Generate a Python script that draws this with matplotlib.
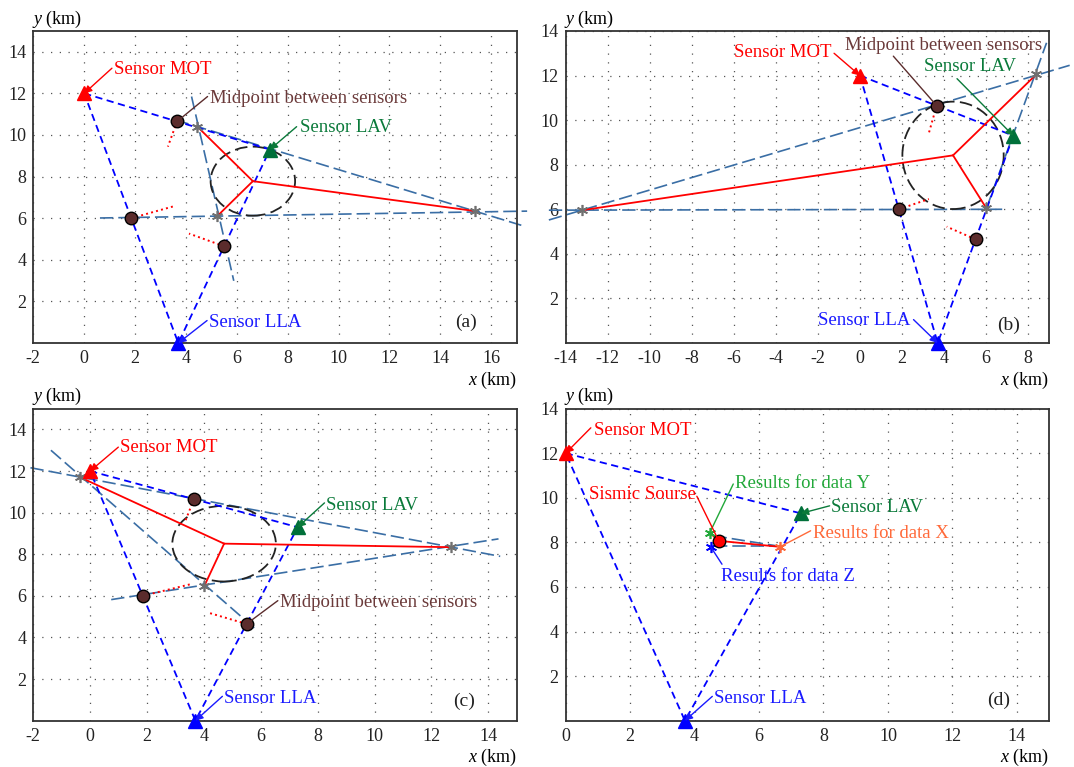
import numpy as np
import matplotlib
matplotlib.use("Agg")
import matplotlib.pyplot as plt
from matplotlib.patches import Circle

plt.rcParams['font.family'] = ['Liberation Serif', 'DejaVu Serif']
plt.rcParams['mathtext.fontset'] = 'custom'
plt.rcParams['mathtext.rm'] = 'Liberation Serif'
plt.rcParams['mathtext.it'] = 'Liberation Serif:italic'
plt.rcParams['axes.unicode_minus'] = False

# === Sensors (MOT, LAV, LLA) and midpoints, km ===
sensor_names = ["MOT", "LAV", "LLA"]
sensor_x = [0.0, 7.3, 3.7]
sensor_y = [12.0, 9.3, 0.0]
sensor_colors = ["#ff0000", "#00703a", "#0000ff"]
mid_x = [3.65, 1.85, 5.5]
mid_y = [10.65, 6.0, 4.65]

# === Panel (a) ===
a_star_x = [4.45, 5.23, 15.38]
a_star_y = [10.40, 6.10, 6.34]
a_center = [6.63, 7.78]
a_radius = 1.66
a_line_x = [[3.60, 17.18], [0.62, 17.41], [4.22, 5.88]]
a_line_y = [[10.72, 5.66], [6.01, 6.34], [11.85, 2.99]]
a_dir_x = [3.29, 3.54, 4.12]
a_dir_y = [9.44, 6.58, 5.26]

# === Panel (b) ===
b_star_x = [-13.21, 6.02, 8.39]
b_star_y = [5.96, 6.04, 12.05]
b_center = [4.43, 8.42]
b_radius = 2.41
b_line_x = [[-14.8, 9.98], [-14.8, 7.0], [6.02, 8.88]]
b_line_y = [[5.52, 12.46], [5.96, 6.0], [6.04, 13.47]]
b_dir_x = [3.28, 3.28, 4.13]
b_dir_y = [9.42, 6.46, 5.22]

# === Panel (c) ===
c_star_x = [-0.35, 4.02, 12.70]
c_star_y = [11.70, 6.49, 8.34]
c_center = [4.71, 8.51]
c_radius = 1.82
c_line_x = [[-2.1, 14.42], [0.74, 14.36], [-1.38, 5.9]]
c_line_y = [[12.16, 7.9], [5.82, 8.74], [13.0, 4.3]]
c_dir_x = [3.32, 3.56, 4.11]
c_dir_y = [9.51, 6.57, 5.21]

# === Panel (d) ===
d_result_names = ["Y", "Z", "X"]
d_result_x = [4.47, 4.50, 6.65]
d_result_y = [8.43, 7.80, 7.80]
d_result_colors = ["#22a83a", "#0000ff", "#ff6a3a"]
d_source = [4.75, 8.07]
d_line_x = [[4.59, 6.65], [4.60, 6.65]]
d_line_y = [[8.30, 7.82], [7.82, 7.82]]

BLUE_LINE = "#3a6ea5"
BROWN = "#5b2c2c"


def setup(ax, xlim, ylim, xticks, tag, tag_xy):
    ax.set_xlim(xlim)
    ax.set_ylim(ylim)
    ax.set_xticks(xticks)
    ax.set_yticks(np.arange(2, 15, 2))
    ax.grid(True, color="#555555", linestyle=(0, (1, 6)), linewidth=0.9)
    ax.tick_params(length=0, labelsize=13, pad=5, colors="#222222")
    for s in ax.spines.values():
        s.set_linewidth(1.3)
        s.set_color("#333333")
    ax.annotate("$y$ (km)", xy=(0, 1), xycoords="axes fraction", xytext=(-1, 1),
                textcoords="offset points", ha="left", va="bottom", fontsize=13)
    ax.annotate("$x$ (km)", xy=(1, 0), xycoords="axes fraction", xytext=(0, -19),
                textcoords="offset points", ha="right", va="top", fontsize=13)
    ax.text(tag_xy[0], tag_xy[1], tag, ha="center", va="center", fontsize=14, color="#222222")


def draw_sensors(ax, with_mid=True):
    tx = sensor_x + [sensor_x[0]]
    ty = sensor_y + [sensor_y[0]]
    ax.plot(tx, ty, color="#0000ff", lw=1.3, dashes=(4, 2.5), zorder=3)
    for x, y, c in zip(sensor_x, sensor_y, sensor_colors):
        ax.plot(x, y, "^", color=c, ms=10, clip_on=False, zorder=7)
    if with_mid:
        ax.plot(mid_x, mid_y, "o", mfc=BROWN, mec="black", ms=9, mew=1, ls="none", zorder=7)


def draw_solution(ax, star_x, star_y, center, radius, line_x, line_y, dir_x, dir_y):
    for lx, ly in zip(line_x, line_y):
        ax.plot(lx, ly, color=BLUE_LINE, lw=1.2, dashes=(8, 3), clip_on=False, zorder=2)
    for i in range(3):
        ax.plot([mid_x[i], dir_x[i]], [mid_y[i], dir_y[i]], color="red", ls=":", lw=1.4, zorder=4)
    ax.add_patch(Circle(center, radius, fill=False, ec="#222222", lw=1.3,
                        ls=(0, (7, 3)), zorder=3))
    for sx, sy in zip(star_x, star_y):
        ax.plot([center[0], sx], [center[1], sy], color="red", lw=1.3, zorder=4)
    ax.plot(star_x, star_y, ls="none", marker=(6, 2, 0), color="#707070", ms=8, mew=1.2, zorder=6)


def label(ax, txt, t_xy, start, target, color, head=True, ha="left", lcolor=None):
    ax.text(t_xy[0], t_xy[1], txt, color=color, fontsize=13.5, ha=ha, va="center", zorder=8)
    style = "-|>" if head else "-"
    ax.annotate("", xy=target, xytext=start,
                arrowprops=dict(arrowstyle=style, color=lcolor or color, lw=1.0,
                                shrinkA=0, shrinkB=0, mutation_scale=11), zorder=8)


fig = plt.figure(figsize=(10.74, 7.67), dpi=100)
ax_a = fig.add_axes([0.0310, 0.5528, 0.4501, 0.4068])
ax_b = fig.add_axes([0.5267, 0.5528, 0.4501, 0.4068])
ax_c = fig.add_axes([0.0310, 0.0604, 0.4501, 0.4068])
ax_d = fig.add_axes([0.5267, 0.0604, 0.4501, 0.4068])

MOT = (sensor_x[0], sensor_y[0])
LAV = (sensor_x[1], sensor_y[1])
LLA = (sensor_x[2], sensor_y[2])
MID1 = (mid_x[0], mid_y[0])
MID3 = (mid_x[2], mid_y[2])

# --- (a) ---
setup(ax_a, (-2, 17), (0, 15), np.arange(-2, 17, 2), "(a)", (15.0, 1.0))
draw_solution(ax_a, a_star_x, a_star_y, a_center, a_radius, a_line_x, a_line_y, a_dir_x, a_dir_y)
draw_sensors(ax_a)
label(ax_a, "Sensor MOT", (1.16, 13.13), (1.09, 13.21), MOT, "#ff0000")
label(ax_a, "Midpoint between sensors", (4.96, 11.77), (4.85, 11.85), MID1, "#6b3a3a", head=False, lcolor=BROWN)
label(ax_a, "Sensor LAV", (8.49, 10.35), (8.35, 10.40), LAV, "#0a7a3a")
label(ax_a, "Sensor LLA", (4.89, 1.0), (4.83, 1.08), LLA, "#1a1aff")

# --- (b) ---
setup(ax_b, (-14, 9), (0, 14), np.arange(-14, 9, 2), "(b)", (7.08, 0.8))
draw_solution(ax_b, b_star_x, b_star_y, b_center, b_radius, b_line_x, b_line_y, b_dir_x, b_dir_y)
draw_sensors(ax_b)
label(ax_b, "Sensor MOT", (-1.33, 13.05), (-1.23, 13.0), MOT, "#ff0000", ha="right")
label(ax_b, "Midpoint between sensors", (-0.70, 13.36), (1.59, 12.87), MID1, "#6b3a3a", head=False, lcolor=BROWN)
label(ax_b, "Sensor LAV", (3.07, 12.42), (4.62, 11.86), LAV, "#0a7a3a")
label(ax_b, "Sensor LLA", (2.41, 1.01), (2.55, 1.05), LLA, "#1a1aff", ha="right")

# --- (c) ---
setup(ax_c, (-2, 15), (0, 15), np.arange(-2, 15, 2), "(c)", (13.15, 0.94))
draw_solution(ax_c, c_star_x, c_star_y, c_center, c_radius, c_line_x, c_line_y, c_dir_x, c_dir_y)
draw_sensors(ax_c)
label(ax_c, "Sensor MOT", (1.05, 13.12), (0.99, 13.15), MOT, "#ff0000")
label(ax_c, "Sensor LAV", (8.30, 10.36), (8.24, 10.47), LAV, "#0a7a3a")
label(ax_c, "Midpoint between sensors", (6.68, 5.66), (6.60, 5.77), MID3, "#6b3a3a", head=False, lcolor=BROWN)
label(ax_c, "Sensor LLA", (4.71, 1.08), (4.65, 1.17), LLA, "#1a1aff")

# --- (d) ---
setup(ax_d, (0, 15), (0, 14), np.arange(0, 15, 2), "(d)", (13.43, 0.89))
for lx, ly in zip(d_line_x, d_line_y):
    ax_d.plot(lx, ly, color=BLUE_LINE, lw=1.2, dashes=(8, 3), zorder=2)
draw_sensors(ax_d, with_mid=False)
ax_d.plot([d_source[0], d_result_x[2]], [d_source[1], d_result_y[2]], color="red", lw=1.3, zorder=4)
ax_d.plot([d_source[0], d_result_x[0]], [d_source[1], d_result_y[0]], color="red", lw=1.3, zorder=4)
for x, y, c in zip(d_result_x, d_result_y, d_result_colors):
    ax_d.plot(x, y, ls="none", marker=(6, 2, 0), color=c, ms=8, mew=1.2, zorder=6)
ax_d.plot(d_source[0], d_source[1], "o", mfc="red", mec="black", ms=9, mew=1, zorder=7)
R_Y = (d_result_x[0], d_result_y[0])
R_Z = (d_result_x[1], d_result_y[1])
R_X = (d_result_x[2], d_result_y[2])
label(ax_d, "Sensor MOT", (0.87, 13.0), (0.78, 13.14), MOT, "#ff0000")
label(ax_d, "Results for data Y", (5.25, 10.62), (5.20, 10.62), R_Y, "#22a83a", head=False)
label(ax_d, "Sismic Sourse", (4.05, 10.13), (4.07, 10.07), tuple(d_source), "#ff0000", head=False, ha="right")
label(ax_d, "Sensor LAV", (8.24, 9.57), (8.19, 9.64), LAV, "#0a7a3a")
label(ax_d, "Results for data X", (7.66, 8.41), (7.60, 8.52), R_X, "#ff6a3a", head=False)
label(ax_d, "Results for data Z", (4.82, 6.45), (4.85, 7.02), R_Z, "#1a1aff", head=False)
label(ax_d, "Sensor LLA", (4.61, 1.01), (4.55, 1.09), LLA, "#1a1aff")

fig.savefig("out.png", dpi=100)
